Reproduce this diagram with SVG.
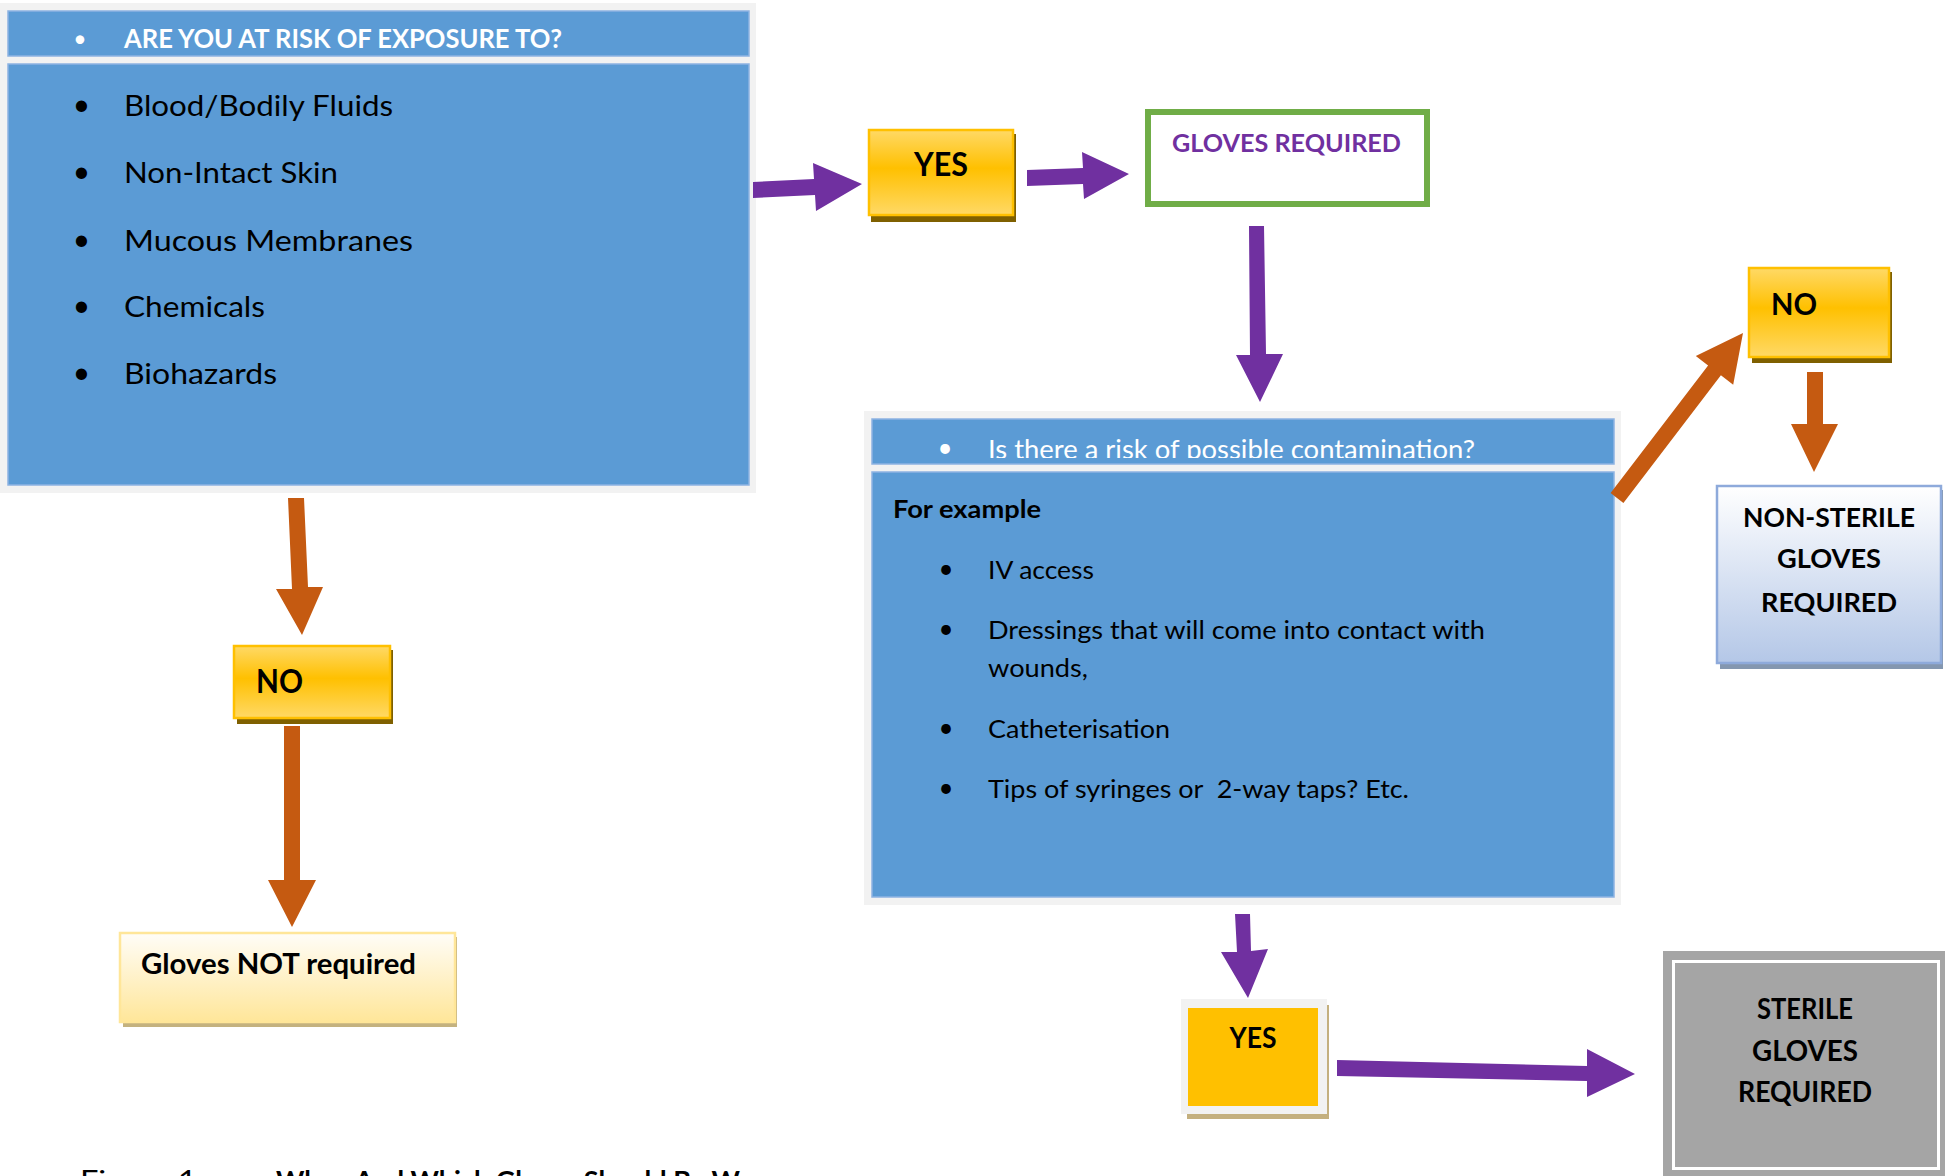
<svg xmlns="http://www.w3.org/2000/svg" width="1945" height="1176" viewBox="0 0 1945 1176">
<style>
.t{font-family:Lato,"Liberation Sans",sans-serif;}
.b{font-weight:700;}
.w{fill:#ffffff;}
.k{fill:#000000;}
.frame{fill:#f2f2f2;}
.blue{fill:#5b9bd5;stroke:#8db3e2;stroke-width:1.5;}
.pur{fill:#7030a0;}
.org{fill:#c55a11;}
</style>
<defs>
<linearGradient id="gold" x1="0" y1="0" x2="0" y2="1">
<stop offset="0" stop-color="#ffd966"/>
<stop offset="0.45" stop-color="#ffc000"/>
<stop offset="1" stop-color="#ffd966"/>
</linearGradient>
<linearGradient id="cream" x1="0" y1="0" x2="0" y2="1">
<stop offset="0" stop-color="#fffdf8"/>
<stop offset="1" stop-color="#ffe699"/>
</linearGradient>
<linearGradient id="paleblue" x1="0" y1="0" x2="0" y2="1">
<stop offset="0" stop-color="#ffffff"/>
<stop offset="1" stop-color="#b4c7e7"/>
</linearGradient>
<clipPath id="hdrclip"><rect x="872" y="419" width="742" height="39"/></clipPath>
</defs>
<rect width="1945" height="1176" fill="#ffffff"/>

<g id="exposure-box">
<rect class="frame" x="0" y="3" width="756" height="490"/>
<rect class="blue" x="8" y="11" width="741" height="45"/>
<rect class="blue" x="8" y="64" width="741" height="421"/>
<text class="t w" x="80" y="47" font-size="23" text-anchor="middle">•</text>
<text class="t b w" x="124" y="48" font-size="26.5" textLength="438" lengthAdjust="spacingAndGlyphs">ARE YOU AT RISK OF EXPOSURE TO?</text>
<g class="t k" font-size="29.5">
<text x="81.5" y="115" font-size="30" text-anchor="middle">•</text>
<text x="124" y="116" textLength="269" lengthAdjust="spacingAndGlyphs">Blood/Bodily Fluids</text>
<text x="81.5" y="182" font-size="30" text-anchor="middle">•</text>
<text x="124" y="183" textLength="214" lengthAdjust="spacingAndGlyphs">Non-Intact Skin</text>
<text x="81.5" y="250" font-size="30" text-anchor="middle">•</text>
<text x="124" y="251" textLength="289" lengthAdjust="spacingAndGlyphs">Mucous Membranes</text>
<text x="81.5" y="316" font-size="30" text-anchor="middle">•</text>
<text x="124" y="317" textLength="141" lengthAdjust="spacingAndGlyphs">Chemicals</text>
<text x="81.5" y="383" font-size="30" text-anchor="middle">•</text>
<text x="124" y="384" textLength="153" lengthAdjust="spacingAndGlyphs">Biohazards</text>
</g>
</g>

<g id="yes-1">
<rect x="871" y="134" width="145" height="88" fill="#7f6000"/>
<rect x="869" y="130" width="144" height="85" fill="url(#gold)" stroke="#ffc000" stroke-width="2.5"/>
<text class="t b k" x="941" y="176" font-size="32" text-anchor="middle" textLength="54" lengthAdjust="spacingAndGlyphs">YES</text>
</g>

<g id="gloves-required">
<rect x="1148" y="112" width="279" height="92" fill="#ffffff" stroke="#70ad47" stroke-width="6"/>
<text class="t b pur" x="1172" y="152" font-size="24" textLength="229" lengthAdjust="spacingAndGlyphs">GLOVES REQUIRED</text>
</g>

<g id="contamination-box">
<rect class="frame" x="864" y="411" width="757" height="494"/>
<rect class="blue" x="872" y="419" width="742" height="45"/>
<rect class="blue" x="872" y="472" width="742" height="425"/>
<text class="t w" x="945" y="457" font-size="26" text-anchor="middle">•</text>
<text class="t w" x="988" y="459" font-size="27.5" clip-path="url(#hdrclip)" textLength="487" lengthAdjust="spacingAndGlyphs">Is there a risk of possible contamination?</text>
<text class="t b k" x="893" y="518" font-size="24" textLength="148" lengthAdjust="spacingAndGlyphs">For example</text>
<g class="t k" font-size="25.5">
<text x="946" y="578" font-size="26" text-anchor="middle">•</text>
<text x="988" y="579" textLength="106" lengthAdjust="spacingAndGlyphs">IV access</text>
<text x="946" y="638" font-size="26" text-anchor="middle">•</text>
<text x="988" y="639" textLength="497" lengthAdjust="spacingAndGlyphs">Dressings that will come into contact with</text>
<text x="988" y="677" textLength="100" lengthAdjust="spacingAndGlyphs">wounds,</text>
<text x="946" y="737" font-size="26" text-anchor="middle">•</text>
<text x="988" y="738" textLength="182" lengthAdjust="spacingAndGlyphs">Catheterisation</text>
<text x="946" y="797" font-size="26" text-anchor="middle">•</text>
<text x="988" y="798" xml:space="preserve" textLength="421" lengthAdjust="spacingAndGlyphs">Tips of syringes or  2-way taps? Etc.</text>
</g>
</g>

<g id="no-right">
<rect x="1752" y="272" width="140" height="91" fill="#7f6000"/>
<rect x="1749" y="268" width="140" height="89" fill="url(#gold)" stroke="#ffc000" stroke-width="2.5"/>
<text class="t b k" x="1771" y="315" font-size="31" textLength="46" lengthAdjust="spacingAndGlyphs">NO</text>
</g>

<g id="non-sterile">
<rect x="1720" y="490" width="223" height="179" fill="#8497b0"/>
<rect x="1717" y="486" width="224" height="177" fill="url(#paleblue)" stroke="#8eaadb" stroke-width="2.5"/>
<g class="t b k" font-size="26.5" text-anchor="middle">
<text x="1829" y="527" textLength="172" lengthAdjust="spacingAndGlyphs">NON-STERILE</text>
<text x="1829" y="568" textLength="104" lengthAdjust="spacingAndGlyphs">GLOVES</text>
<text x="1829" y="612" textLength="136" lengthAdjust="spacingAndGlyphs">REQUIRED</text>
</g>
</g>

<g id="no-left">
<rect x="237" y="650" width="156" height="74" fill="#7f6000"/>
<rect x="234" y="646" width="156" height="72" fill="url(#gold)" stroke="#ffc000" stroke-width="2.5"/>
<text class="t b k" x="256" y="693" font-size="32" textLength="47" lengthAdjust="spacingAndGlyphs">NO</text>
</g>

<g id="gloves-not-required">
<rect x="123" y="937" width="334" height="90" fill="#c4b27f"/>
<rect x="120" y="933" width="335" height="89" fill="url(#cream)" stroke="#ffe699" stroke-width="2.5"/>
<text class="t b k" x="141" y="974" font-size="28" textLength="275" lengthAdjust="spacingAndGlyphs">Gloves NOT required</text>
</g>

<g id="yes-2">
<rect x="1187" y="1005" width="142" height="114" fill="#c4b07f"/>
<rect class="frame" x="1181" y="999" width="146" height="115"/>
<rect x="1188" y="1008" width="130" height="98" fill="#ffc000"/>
<text class="t b k" x="1253" y="1048" font-size="28" text-anchor="middle" textLength="47" lengthAdjust="spacingAndGlyphs">YES</text>
</g>

<g id="sterile">
<rect x="1663" y="951" width="282" height="225" fill="#a5a5a5"/>
<rect x="1673.5" y="961.5" width="265" height="207" fill="none" stroke="#ffffff" stroke-width="3"/>
<g class="t b k" font-size="28" text-anchor="middle">
<text x="1805" y="1019" textLength="96" lengthAdjust="spacingAndGlyphs">STERILE</text>
<text x="1805" y="1061" textLength="106" lengthAdjust="spacingAndGlyphs">GLOVES</text>
<text x="1805" y="1102" textLength="134" lengthAdjust="spacingAndGlyphs">REQUIRED</text>
</g>
</g>

<g id="connectors">
<polygon class="pur" points="753,182 814,179 813,163 862,184 816,211 815,195 753,198"/>
<polygon class="pur" points="1027,170 1083,168 1082,152 1129,174 1084,199 1083,184 1027,186"/>
<polygon class="pur" points="1249,226 1264,226 1266,354 1283,354 1260,402 1236,355 1250,355"/>
<polygon class="org" points="1610.6,493.1 1708.1,365.5 1695.8,356.1 1743,333 1733.2,384.7 1720.9,375.3 1623.4,502.9"/>
<polygon class="org" points="1807,372 1823,372 1823,424 1838,424 1814,472 1791,424 1807,424"/>
<polygon class="org" points="288,498 304,498 308,587 323,587 302,635 276,589 292,589"/>
<polygon class="org" points="284,726 300,726 300,880 316,880 292,927 268,880 284,880"/>
<polygon class="pur" points="1235,914 1250,914 1251,951 1268,949 1248,998 1221,952 1237,952"/>
<polygon class="pur" points="1337,1060 1587,1066 1587,1049 1635,1074 1587,1097 1587,1081 1337,1076"/>
</g>

<g id="caption" class="t k" font-size="26">
<text x="80" y="1190" textLength="117" lengthAdjust="spacingAndGlyphs">Figure 1</text>
<text class="b" x="276" y="1190" textLength="464" lengthAdjust="spacingAndGlyphs">When And Which Gloves Should Be W</text>
</g>
</svg>
